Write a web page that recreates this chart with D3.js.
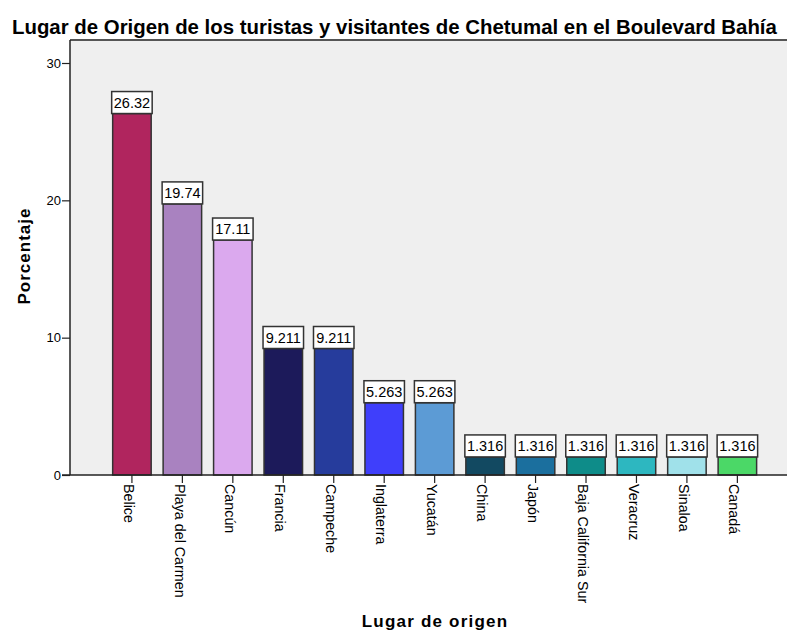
<!DOCTYPE html>
<html>
<head>
<meta charset="utf-8">
<script src="https://cdn.jsdelivr.net/npm/d3@7"></script>
<style>
  body { margin: 0; background: #fff; }
  text { font-family: "Liberation Sans", Arial, sans-serif; fill: #000; }
</style>
</head>
<body>
<script>
const categories = ['Belice', 'Playa del Carmen', 'Cancún', 'Francia', 'Campeche', 'Inglaterra', 'Yucatán',
    'China', 'Japón', 'Baja California Sur', 'Veracruz', 'Sinaloa', 'Canadá'];
const values = [26.32, 19.74, 17.11, 9.211, 9.211, 5.263, 5.263, 1.316, 1.316, 1.316, 1.316, 1.316, 1.316];
const barColors = ['#b0255e', '#a982c0', '#dba9ee', '#1c1a5a', '#263c9c', '#3f3ffb', '#5c9bd5',
    '#124961', '#1b6f9e', '#0e8c89', '#2db7c0', '#a0e1ea', '#4bd867'];
const yTicks = [0, 10, 20, 30];

const width = 787;
const height = 631;
const plot = { left: 70, right: 787, top: 40, bottom: 475 };

const data = categories.map((c, i) => ({ name: c, value: values[i], color: barColors[i] }));

const x = d3
    .scaleBand()
    .domain(categories)
    .range([106.7, 762.6])
    .paddingInner(0.237)
    .paddingOuter(0.1185);

const y = d3.scaleLinear().domain([0, 30]).range([plot.bottom, 63]);

const svg = d3
    .select('body')
    .append('svg')
    .attr('width', width)
    .attr('height', height);

// Plot background
svg
    .append('rect')
    .attr('x', plot.left)
    .attr('y', plot.top)
    .attr('width', plot.right - plot.left)
    .attr('height', plot.bottom - plot.top)
    .attr('fill', '#efefef');

// Top border
svg
    .append('line')
    .attr('x1', plot.left)
    .attr('x2', plot.right)
    .attr('y1', plot.top)
    .attr('y2', plot.top)
    .attr('stroke', '#555')
    .attr('stroke-width', 2);

// Title
svg
    .append('text')
    .attr('x', 12)
    .attr('y', 34)
    .style('font-size', '20.4px')
    .style('font-weight', 'bold')
    .text('Lugar de Origen de los turistas y visitantes de Chetumal en el Boulevard Bahía');

// Bars
svg
    .selectAll('rect.bar')
    .data(data)
    .enter()
    .append('rect')
    .attr('class', 'bar')
    .attr('x', d => x(d.name))
    .attr('y', d => y(d.value))
    .attr('width', x.bandwidth())
    .attr('height', d => y(0) - y(d.value))
    .attr('fill', d => d.color)
    .attr('stroke', '#333')
    .attr('stroke-width', 1.5);

// Value labels
const labels = svg
    .selectAll('g.vlabel')
    .data(data)
    .enter()
    .append('g')
    .attr('class', 'vlabel')
    .attr('transform', d => `translate(${x(d.name) + x.bandwidth() / 2}, ${y(d.value)})`);

labels
    .append('rect')
    .attr('x', -x.bandwidth() / 2 - 1)
    .attr('y', -22)
    .attr('width', x.bandwidth() + 2)
    .attr('height', 22)
    .attr('fill', '#fff')
    .attr('stroke', '#333')
    .attr('stroke-width', 1.5);

labels
    .append('text')
    .attr('y', -6)
    .attr('text-anchor', 'middle')
    .style('font-size', '14.5px')
    .text(d => d.value);

// Y axis
const yAxis = svg
    .append('g')
    .attr('transform', `translate(${plot.left}, 0)`)
    .call(d3.axisLeft(y).tickValues(yTicks).tickSize(8).tickSizeOuter(0).tickFormat(d3.format('d')));
yAxis.select('.domain').remove();
yAxis.selectAll('line').attr('stroke', '#222').attr('stroke-width', 1.2);
yAxis.selectAll('text').style('font-size', '13px').style('font-family', '"Liberation Sans", Arial, sans-serif').attr('x', -9);

svg
    .append('line')
    .attr('x1', plot.left)
    .attr('x2', plot.left)
    .attr('y1', plot.top)
    .attr('y2', plot.bottom)
    .attr('stroke', '#222')
    .attr('stroke-width', 1.5);

// X axis
const xAxis = svg
    .append('g')
    .attr('transform', `translate(0, ${plot.bottom})`)
    .call(d3.axisBottom(x).tickSize(8).tickSizeOuter(0));
xAxis.select('.domain').remove();
xAxis.selectAll('line').attr('stroke', '#222').attr('stroke-width', 1.2);
xAxis
    .selectAll('text')
    .style('font-size', '14.3px')
    .style('font-family', '"Liberation Sans", Arial, sans-serif')
    .attr('transform', 'rotate(90)')
    .attr('x', 9)
    .attr('y', 0)
    .attr('dy', '0.55em')
    .attr('text-anchor', 'start');

svg
    .append('line')
    .attr('x1', plot.left - 8)
    .attr('x2', plot.right)
    .attr('y1', plot.bottom)
    .attr('y2', plot.bottom)
    .attr('stroke', '#222')
    .attr('stroke-width', 1.5);

// Axis titles
svg
    .append('text')
    .attr('transform', 'translate(30, 256) rotate(-90)')
    .attr('text-anchor', 'middle')
    .style('font-size', '17px')
    .style('font-weight', 'bold')
    .style('letter-spacing', '1px')
    .text('Porcentaje');

svg
    .append('text')
    .attr('x', 435)
    .attr('y', 627)
    .attr('text-anchor', 'middle')
    .style('font-size', '17px')
    .style('font-weight', 'bold')
    .style('letter-spacing', '1.2px')
    .text('Lugar de origen');
</script>
</body>
</html>
